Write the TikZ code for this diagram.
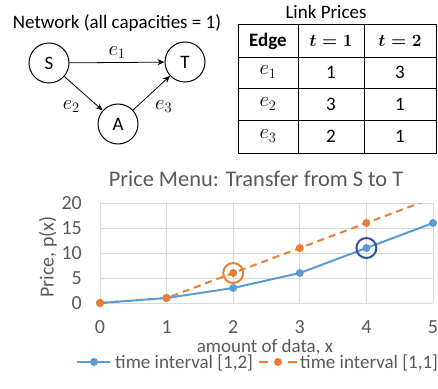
\documentclass[tikz,border=0pt]{standalone}
\usepackage{fontspec}
\usepackage{amsmath}
\setmainfont{Carlito}
\usetikzlibrary{arrows.meta}

\definecolor{serieblue}{HTML}{5B9BD5}
\definecolor{serieorange}{HTML}{ED7D31}
\definecolor{markblue}{HTML}{2F5597}
\definecolor{gridgray}{HTML}{D9D9D9}
\definecolor{labelgray}{HTML}{595959}

\tikzset{
  vertex/.style={draw,circle,line width=1pt,minimum size=40pt,inner sep=0pt,
    font=\fontsize{19}{21}\selectfont},
  link/.style={-{Stealth[length=7pt,width=6pt]},line width=0.8pt},
  cell/.style={font=\fontsize{19}{21}\selectfont},
  mathcell/.style={font=\fontsize{21}{23}\selectfont},
  ticklabel/.style={text=labelgray,inner sep=0pt,font=\fontsize{20}{22}\selectfont},
  charttext/.style={text=labelgray,inner sep=0pt,font=\fontsize{19}{21}\selectfont},
  dot/.style={circle,inner sep=0pt,minimum size=8pt},
}

\begin{document}
\begin{tikzpicture}[x=1pt,y=-1pt]
  \useasboundingbox (0,0) rectangle (438,388);

  % network
  \node[font=\fontsize{19}{21}\selectfont,anchor=base] (nettitle) at (117,28)
    {Network (all capacities = 1)};
  \node[vertex] (S) at (49,63) {S};
  \node[vertex] (T) at (185,62) {T};
  \node[vertex] (A) at (118,124) {A};
  \draw[link] (S) -- node[above,mathcell] {$e_1$} (T);
  \draw[link] (S) -- node[below left,mathcell,yshift=-3pt] {$e_2$} (A);
  \draw[link] (A) -- node[below right,mathcell,yshift=-4pt] {$e_3$} (T);

  % link price table
  \node[font=\fontsize{19}{21}\selectfont,anchor=base] (tabtitle) at (326,18) {Link Prices};
  \begin{scope}[line width=1pt]
    \draw (238,24) rectangle (436,153);
    \foreach \y in {57,88,120} \draw (238,\y) -- (436,\y);
    \foreach \x in {298,364} \draw (\x,24) -- (\x,153);
  \end{scope}
  \node[cell] (hedge) at (268,41) {\textbf{Edge}};
  \node[cell] (hone) at (331,41) {$\boldsymbol{t=1}$};
  \node[cell] (htwo) at (400,41) {$\boldsymbol{t=2}$};
  \foreach \e/\p/\q/\y in {1/1/3/72,2/3/1/104,3/2/1/136} {
    \node[mathcell] (edge\e) at (268,\y) {$e_\e$};
    \node[cell] (one\e) at (331,\y) {\p};
    \node[cell] (two\e) at (400,\y) {\q};
  }

  % price menu chart
  \node[text=labelgray,font=\fontsize{22.4}{24}\selectfont,anchor=base] (charttitle) at (256,186)
    {Price Menu: Transfer from S to T};
  \node[text=labelgray,font=\fontsize{20}{22}\selectfont,rotate=90] (ylabel) at (48,257)
    {Price, p(x)};
  \node[charttext,anchor=base] (xlabel) at (265,352) {amount of data, x};
  \begin{scope}[shift={(100,303)},x=66.6pt,y=5pt]
    \foreach \v in {0,5,...,20} {
      \draw[gridgray,line width=0.8pt] (0,\v) -- (5,\v);
      \node[ticklabel,anchor=east] at (-0.27,\v) {\v};
    }
    \foreach \u in {0,...,5} {
      \draw[gridgray,line width=0.8pt] (\u,0) -- (\u,20);
      \node[ticklabel,anchor=base] at (\u,-6) {\u};
    }
    \begin{scope}
      \clip (-0.2,-1) rectangle (5.2,20);
      \draw[serieorange,line width=2pt,dash pattern=on 7pt off 5pt]
        (0,0) -- (1,1) -- (2,6) -- (3,11) -- (4,16) -- (5,21);
    \end{scope}
    \draw[serieblue,line width=2pt,line join=round]
      (0,0) -- (1,1) -- (2,3) -- (3,6) -- (4,11) -- (5,16);
    \foreach \u/\v in {0/0,1/1,2/3,3/6,4/11,5/16}
      \node[dot,fill=serieblue] (b\u) at (\u,\v) {};
    \foreach \u/\v in {0/0,1/1,2/6,3/11,4/16}
      \node[dot,fill=serieorange] (o\u) at (\u,\v) {};
    \draw[serieorange,line width=2pt] (2,6) circle (10pt);
    \draw[markblue,line width=2pt] (4,11) circle (10pt);
  \end{scope}

  % legend
  \draw[serieblue,line width=2pt] (77,362) -- (110,362);
  \node[dot,fill=serieblue] (legb) at (94,362) {};
  \node[charttext,anchor=base west] (legbtext) at (115,368) {time interval [1,2]};
  \draw[serieorange,line width=2pt] (259,362) -- (268,362) (288,362) -- (297,362);
  \node[dot,fill=serieorange] (lego) at (278,362) {};
  \node[charttext,anchor=base west] (legotext) at (300,368) {time interval [1,1]};
\end{tikzpicture}
\end{document}
